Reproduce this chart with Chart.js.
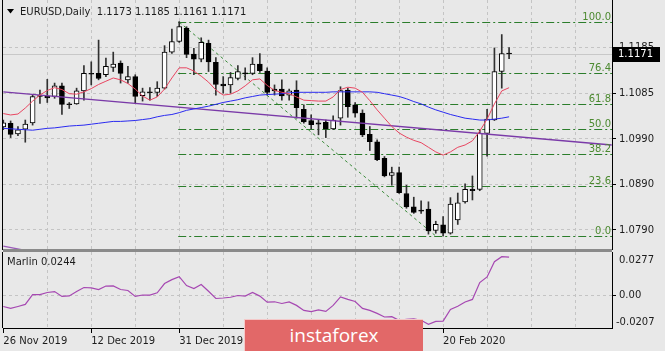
<!DOCTYPE html>
<html>
<head>
<meta charset="utf-8">
<script src="https://cdn.jsdelivr.net/npm/chart.js@4.4.1/dist/chart.umd.min.js"></script>
<style>
  html, body { margin: 0; padding: 0; background: #e8e8e8; }
  #wrap { position: relative; width: 665px; height: 351px; overflow: hidden; background: #e8e8e8; }
  #mainBox { position: absolute; left: 0; top: 0; }
  #subBox { position: absolute; left: 0; top: 252px; }
  #sep { position: absolute; left: 3px; top: 249px; width: 609px; height: 3px; background: #8a8a8a; }
  #logo {
    position: absolute; left: 244px; top: 319px; width: 178px; height: 40px;
    background: #e26868; border-top: 1px solid #f4c8c8; border-left: 1px solid #f4c8c8;
    color: #fff; font: 19px "Open Sans", sans-serif; text-align: center; line-height: 30px;
  }
</style>
</head>
<body>
<div id="wrap">
  <div id="mainBox"><canvas id="mainChart" width="665" height="250"></canvas></div>
  <div id="sep"></div>
  <div id="subBox"><canvas id="subChart" width="665" height="99"></canvas></div>
  <div id="logo">instaforex</div>
</div>
<script>
// daily EURUSD candles, one per bar (bar 0 = 26 Nov 2019)
const opens = [
  1.1013, 1.1021, 1.0998, 1.1008, 1.1022, 1.1080, 1.1080, 1.1079, 1.1102, 1.1063,
  1.1063, 1.1091, 1.1129, 1.1129, 1.1126, 1.1142, 1.1151, 1.1115, 1.1122, 1.1081,
  1.1088, 1.1088, 1.1097, 1.1175, 1.1198, 1.1227, 1.1171, 1.1160, 1.1194, 1.1153,
  1.1106, 1.1104, 1.1118, 1.1130, 1.1129, 1.1149, 1.1134, 1.1095, 1.1095, 1.1082,
  1.1093, 1.1051, 1.1027, 1.1022, 1.1023, 1.1009, 1.1032, 1.1093, 1.1061, 1.1043,
  1.0997, 1.0981, 1.0945, 1.0908, 1.0914, 1.0869, 1.0840, 1.0833, 1.0835, 1.0789,
  1.0801, 1.0783, 1.0812, 1.0851, 1.0878, 1.0878, 1.0999, 1.1028, 1.1133, 1.1173
];
const highs = [
  1.1028, 1.1026, 1.1014, 1.1028, 1.1082, 1.1093, 1.1116, 1.1108, 1.1108, 1.1066,
  1.1097, 1.1146, 1.1154, 1.1201, 1.1162, 1.1175, 1.1156, 1.1144, 1.1126, 1.1097,
  1.1098, 1.1111, 1.1189, 1.1225, 1.1241, 1.1230, 1.1183, 1.1206, 1.1201, 1.1163,
  1.1122, 1.1131, 1.1146, 1.1141, 1.1163, 1.1172, 1.1141, 1.1104, 1.1115, 1.1095,
  1.1113, 1.1061, 1.1039, 1.1028, 1.1028, 1.1037, 1.1100, 1.1097, 1.1066, 1.1050,
  1.1014, 1.0985, 1.0949, 1.0926, 1.0926, 1.0887, 1.0861, 1.0853, 1.0851, 1.0809,
  1.0819, 1.0860, 1.0870, 1.0890, 1.0907, 1.1007, 1.1051, 1.1184, 1.1213, 1.1185
];
const lows = [
  1.1007, 1.0990, 1.0994, 1.0980, 1.1017, 1.1064, 1.1066, 1.1075, 1.1040, 1.1053,
  1.1062, 1.1071, 1.1104, 1.1115, 1.1122, 1.1133, 1.1108, 1.1108, 1.1064, 1.1069,
  1.1071, 1.1079, 1.1095, 1.1172, 1.1196, 1.1163, 1.1126, 1.1154, 1.1133, 1.1082,
  1.1086, 1.1086, 1.1115, 1.1115, 1.1126, 1.1131, 1.1082, 1.1082, 1.1071, 1.1071,
  1.1032, 1.1021, 1.1009, 1.0996, 1.0990, 1.1007, 1.1017, 1.1034, 1.1034, 1.0992,
  1.0962, 1.0940, 1.0905, 1.0887, 1.0869, 1.0837, 1.0826, 1.0826, 1.0781, 1.0783,
  1.0777, 1.0781, 1.0802, 1.0848, 1.0855, 1.0875, 1.0950, 1.1027, 1.1097, 1.1161
];
const closes = [
  1.1022, 1.0997, 1.1007, 1.1019, 1.1079, 1.1079, 1.1076, 1.1102, 1.1062, 1.1061,
  1.1091, 1.1129, 1.1127, 1.1118, 1.1144, 1.1149, 1.1129, 1.1122, 1.1079, 1.1089,
  1.1087, 1.1097, 1.1175, 1.1198, 1.1230, 1.1170, 1.1160, 1.1196, 1.1154, 1.1105,
  1.1102, 1.1120, 1.1133, 1.1128, 1.1149, 1.1135, 1.1088, 1.1091, 1.1080, 1.1091,
  1.1055, 1.1024, 1.1018, 1.1019, 1.1009, 1.1028, 1.1092, 1.1057, 1.1043, 1.0996,
  1.0981, 1.0942, 1.0907, 1.0914, 1.0871, 1.0840, 1.0828, 1.0831, 1.0788, 1.0802,
  1.0783, 1.0846, 1.0849, 1.0878, 1.0875, 1.0999, 1.1030, 1.1133, 1.1172, 1.1171
];

// moving averages
const fastMA = [
  1.1042, 1.1039, 1.1041, 1.1054, 1.1069, 1.1082, 1.1092, 1.1098, 1.1094, 1.1085,
  1.1084, 1.1089, 1.1096, 1.1105, 1.1112, 1.1119, 1.1115, 1.1107, 1.1095, 1.1080,
  1.1071, 1.1078, 1.1095, 1.1119, 1.1141, 1.1141, 1.1134, 1.1123, 1.1110, 1.1093,
  1.1082, 1.1084, 1.1091, 1.1102, 1.1115, 1.1117, 1.1103, 1.1092, 1.1088, 1.1085,
  1.1078, 1.1071, 1.1070, 1.1069, 1.1069, 1.1078, 1.1094, 1.1099, 1.1097, 1.1088,
  1.1070, 1.1050, 1.1032, 1.1014, 1.1000, 1.0991, 1.0984, 1.0979, 1.0969, 1.0959,
  1.0952, 1.0959, 1.0969, 1.0974, 1.0983, 1.1004, 1.1030, 1.1063, 1.1091, 1.1098
];
const slowMA = [
  1.1010, 1.1009, 1.1008, 1.1007, 1.1006, 1.1008, 1.1010, 1.1011, 1.1013, 1.1015,
  1.1016, 1.1017, 1.1019, 1.1021, 1.1023, 1.1025, 1.1025, 1.1026, 1.1027, 1.1029,
  1.1031, 1.1035, 1.1038, 1.1040, 1.1044, 1.1049, 1.1052, 1.1055, 1.1058, 1.1062,
  1.1066, 1.1069, 1.1072, 1.1076, 1.1079, 1.1082, 1.1083, 1.1084, 1.1085, 1.1087,
  1.1088, 1.1088, 1.1088, 1.1088, 1.1088, 1.1089, 1.1089, 1.1089, 1.1089, 1.1089,
  1.1089, 1.1088, 1.1085, 1.1082, 1.1079, 1.1074, 1.1068, 1.1063, 1.1056, 1.1050,
  1.1045, 1.1040, 1.1036, 1.1032, 1.1030, 1.1028, 1.1028, 1.1030, 1.1032, 1.1035
];

// Marlin oscillator (lower window)
const marlin = [
  -0.0070, -0.0082, -0.0070, -0.0057, 0.0006, 0.0006, 0.0019, 0.0025, -0.0006, -0.0003,
  0.0025, 0.0051, 0.0049, 0.0038, 0.0060, 0.0061, 0.0038, 0.0032, -0.0006, 0.0003,
  0.0002, 0.0017, 0.0076, 0.0101, 0.0120, 0.0063, 0.0044, 0.0070, 0.0027, -0.0019,
  -0.0016, -0.0011, 0.0000, -0.0004, 0.0019, -0.0004, -0.0042, -0.0040, -0.0051, -0.0041,
  -0.0063, -0.0095, -0.0103, -0.0092, -0.0101, -0.0063, -0.0009, -0.0025, -0.0038, -0.0082,
  -0.0095, -0.0114, -0.0137, -0.0135, -0.0158, -0.0152, -0.0149, -0.0158, -0.0184, -0.0165,
  -0.0163, -0.0089, -0.0068, -0.0041, -0.0025, 0.0082, 0.0118, 0.0215, 0.0247, 0.0244
];

// trendline (two anchor points, bar index / price)
const trendBars = [0, 83];
const trendPrices = [1.1089, 1.0974];
const trend2Bars = [0, 3];
const trend2Prices = [1.0755, 1.0746];

// fibonacci retracement
const fibBars = [24, 59];
const fibHigh = 1.1240;
const fibLow = 1.0777;
const fibRatios = [0, 23.6, 38.2, 50, 61.8, 76.4, 100];

// axes
const priceTicks = [1.0790, 1.0889, 1.0987, 1.1086, 1.1185];
const priceTickLabels = ['1.0790', '1.0890', '1.0990', '1.1085', '1.1185'];
const gridBars = [6, 12, 18, 24, 30, 36, 42, 48, 54, 60, 66, 72, 78];
const dateBars = [0, 12, 24, 60];
const dateLabels = ['26 Nov 2019', '12 Dec 2019', '31 Dec 2019', '20 Feb 2020'];
const marlinMax = 0.0277;
const marlinMin = -0.0207;

const xMin = -0.04, xMax = 83.04;
const yMin = 1.07467, yMax = 1.12878;

const gridColor = '#c4c4c4';
const textColor = '#1c1c1c';
Chart.defaults.font.family = '"DejaVu Sans", sans-serif';
Chart.defaults.font.size = 10;
Chart.defaults.color = textColor;

const lastClose = closes[closes.length - 1];

function leftBorder(chart) {
    const {ctx, chartArea: a} = chart;
    ctx.save();
    ctx.strokeStyle = '#000';
    ctx.lineWidth = 1;
    ctx.beginPath();
    ctx.moveTo(a.left - 0.5, 0);
    ctx.lineTo(a.left - 0.5, a.bottom);
    ctx.stroke();
    ctx.restore();
}

const mainDecor = {
    id: 'mainDecor',
    beforeDatasetsDraw(chart) {
        const {ctx, chartArea: a, scales: {x, y}} = chart;
        ctx.save();
        // bid line
        const py = Math.round(y.getPixelForValue(lastClose)) + 0.5;
        ctx.strokeStyle = '#c8c8c8';
        ctx.beginPath();
        ctx.moveTo(a.left, py);
        ctx.lineTo(a.right, py);
        ctx.stroke();

        // fibo levels
        const x0 = x.getPixelForValue(fibBars[0]) - 1;
        ctx.strokeStyle = '#2b7d2b';
        ctx.setLineDash([8, 3, 2, 3]);
        fibRatios.forEach(r => {
            const v = fibLow + (fibHigh - fibLow) * r / 100;
            const yy = Math.round(y.getPixelForValue(v)) + 0.5;
            ctx.beginPath();
            ctx.moveTo(x0, yy);
            ctx.lineTo(a.right, yy);
            ctx.stroke();
        });
        // fibo base line
        ctx.setLineDash([3, 3]);
        ctx.strokeStyle = '#3c8c3c';
        ctx.beginPath();
        ctx.moveTo(x.getPixelForValue(fibBars[0]), y.getPixelForValue(fibHigh));
        ctx.lineTo(x.getPixelForValue(fibBars[1]), y.getPixelForValue(fibLow));
        ctx.stroke();
        ctx.restore();
    },
    afterDraw(chart) {
        const {ctx, chartArea: a, scales: {y}} = chart;
        leftBorder(chart);
        ctx.save();
        ctx.font = '10px "DejaVu Sans", sans-serif';
        // fibo labels
        ctx.fillStyle = '#4c8a30';
        ctx.textAlign = 'right';
        ctx.textBaseline = 'alphabetic';
        fibRatios.forEach(r => {
            const v = fibLow + (fibHigh - fibLow) * r / 100;
            const yy = Math.round(y.getPixelForValue(v));
            ctx.fillText(r.toFixed(1), a.right - 1, yy - 2);
        });
        // price box
        const py = Math.round(y.getPixelForValue(lastClose));
        ctx.fillStyle = '#000';
        ctx.fillRect(a.right + 1, py - 7, 47, 15);
        ctx.fillStyle = '#fff';
        ctx.textAlign = 'left';
        ctx.textBaseline = 'middle';
        ctx.fillText(lastClose.toFixed(4), a.right + 6, py + 0.5);
        // header
        ctx.fillStyle = '#000';
        ctx.beginPath();
        ctx.moveTo(7, 9);
        ctx.lineTo(14, 9);
        ctx.lineTo(10.5, 13.5);
        ctx.closePath();
        ctx.fill();
        ctx.fillStyle = textColor;
        ctx.fillText('EURUSD,Daily  ' + [opens[69], highs[69], lows[69], closes[69]].map(v => v.toFixed(4)).join(' '), 20, 12);
        ctx.restore();
    }
};

const subDecor = {
    id: 'subDecor',
    afterDraw(chart) {
        const {ctx, chartArea: a} = chart;
        leftBorder(chart);
        ctx.save();
        ctx.font = '10px "DejaVu Sans", sans-serif';
        ctx.fillStyle = textColor;
        ctx.textBaseline = 'middle';
        ctx.fillText('Marlin ' + marlin[marlin.length - 1].toFixed(4), 7, 10);
        ctx.fillText(marlinMax.toFixed(4), a.right + 7, 8);
        ctx.fillText(marlinMin.toFixed(4), a.right + 4, a.bottom - 6);
        ctx.restore();
    }
};

const bars = opens.map((o, i) => i);

new Chart(document.getElementById('mainChart'), {
    type: 'bar',
    data: {
        datasets: [
            {
                type: 'line', order: 1,
                data: bars.map(i => ({x: i, y: fastMA[i]})),
                borderColor: '#e84560', borderWidth: 1, pointRadius: 0, tension: 0
            },
            {
                type: 'line', order: 1,
                data: bars.map(i => ({x: i, y: slowMA[i]})),
                borderColor: '#2a2af0', borderWidth: 1, pointRadius: 0, tension: 0
            },
            {
                type: 'line', order: 1,
                data: trendBars.map((b, k) => ({x: b, y: trendPrices[k]})),
                borderColor: '#7a3aa8', borderWidth: 1.4, pointRadius: 0
            },
            {
                type: 'line', order: 1,
                data: trend2Bars.map((b, k) => ({x: b, y: trend2Prices[k]})),
                borderColor: '#9a5ab8', borderWidth: 1.4, pointRadius: 0
            },
            {
                type: 'bar', order: 2, grouped: false,
                data: bars.map(i => ({x: i, y: [opens[i], closes[i]]})),
                backgroundColor: bars.map(i => closes[i] >= opens[i] ? '#ffffff' : '#000000'),
                borderColor: '#000', borderWidth: 1, borderSkipped: false,
                barThickness: 5, minBarLength: 1
            },
            {
                type: 'bar', order: 3, grouped: false,
                data: bars.map(i => ({x: i, y: [lows[i], highs[i]]})),
                backgroundColor: '#303030', borderWidth: 0, barThickness: 1
            }
        ]
    },
    options: {
        responsive: false,
        animation: false,
        events: [],
        layout: { padding: { left: 3, top: 0, right: 0, bottom: 0 } },
        plugins: { legend: { display: false }, tooltip: { enabled: false } },
        scales: {
            x: {
                type: 'linear', min: xMin, max: xMax, offset: false,
                afterBuildTicks: s => { s.ticks = gridBars.map(v => ({value: v})); },
                afterFit: s => { s.height = 0; s.paddingLeft = 0; s.paddingRight = 0; },
                ticks: { display: false },
                grid: { color: gridColor, drawTicks: false, offset: false },
                border: { display: false, dash: [3, 3] }
            },
            y: {
                position: 'right', min: yMin, max: yMax, beginAtZero: false,
                afterBuildTicks: s => { s.ticks = priceTicks.map(v => ({value: v})); },
                afterFit: s => { s.width = 53; s.paddingTop = 0; s.paddingBottom = 0; },
                ticks: { callback: (v, i) => priceTickLabels[i], padding: 3, color: textColor },
                grid: { color: gridColor, tickColor: '#000', tickLength: 4 },
                border: { display: true, color: '#000', dash: [3, 3] }
            }
        }
    },
    plugins: [mainDecor]
});

new Chart(document.getElementById('subChart'), {
    type: 'line',
    data: {
        datasets: [{
            data: bars.map(i => ({x: i, y: marlin[i]})),
            borderColor: '#a648b2', borderWidth: 1.2, pointRadius: 0, tension: 0
        }]
    },
    options: {
        responsive: false,
        animation: false,
        events: [],
        layout: { padding: { left: 3, top: 0, right: 0, bottom: 0 } },
        plugins: { legend: { display: false }, tooltip: { enabled: false } },
        scales: {
            x: {
                type: 'linear', min: xMin, max: xMax, offset: false,
                afterBuildTicks: s => { s.ticks = [0].concat(gridBars).map(v => ({value: v})); },
                afterFit: s => { s.height = 23; s.paddingLeft = 0; s.paddingRight = 0; },
                ticks: {
                    autoSkip: false, maxRotation: 0, align: 'start', padding: 2, color: textColor,
                    callback: v => { const k = dateBars.indexOf(v); return k >= 0 ? dateLabels[k] : ''; }
                },
                grid: {
                    color: c => (c.tick && c.tick.value === 0) ? 'rgba(0,0,0,0)' : gridColor,
                    tickColor: c => (c.tick && dateBars.indexOf(c.tick.value) >= 0) ? '#000' : 'rgba(0,0,0,0)',
                    tickLength: 5, offset: false
                },
                border: { display: true, color: '#000', dash: [3, 3] }
            },
            y: {
                position: 'right', min: marlinMin, max: marlinMax,
                afterBuildTicks: s => { s.ticks = [{value: 0}]; },
                afterFit: s => { s.width = 53; s.paddingTop = 0; s.paddingBottom = 0; },
                ticks: { callback: () => '0.00', padding: 3, color: textColor },
                grid: { color: gridColor, tickColor: '#000', tickLength: 4 },
                border: { display: true, color: '#000', dash: [3, 3] }
            }
        }
    },
    plugins: [subDecor]
});
</script>
</body>
</html>
